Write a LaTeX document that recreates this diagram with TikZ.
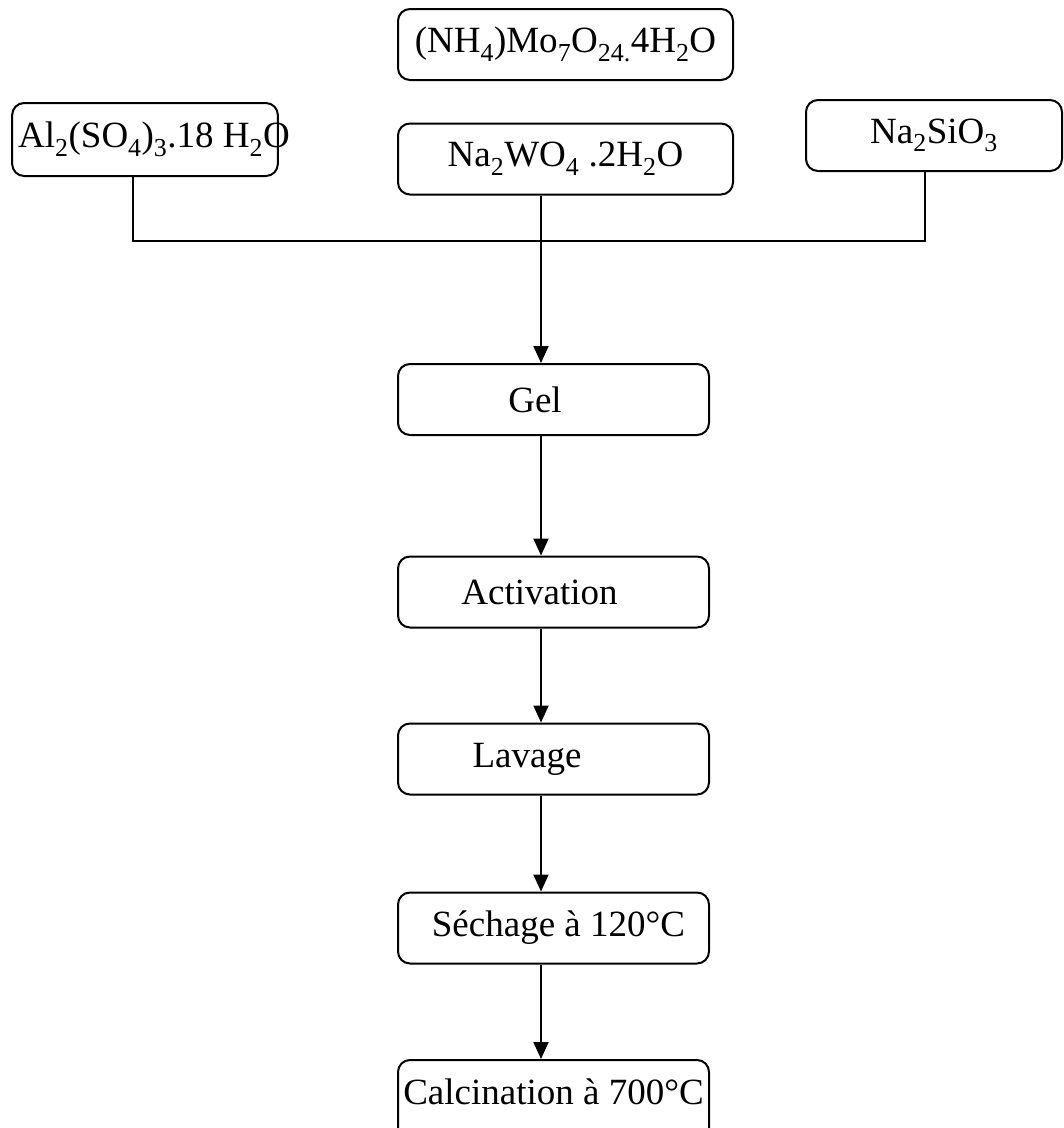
\documentclass[tikz,border=0pt]{standalone}
\usepackage{fontspec}
\setmainfont{Liberation Serif}
\usetikzlibrary{arrows.meta}

\tikzset{
  stepbox/.style ={draw=black, rounded corners=12pt, line width=2pt, minimum height=71pt,
                   inner sep=0pt, font=\fontsize{37}{44}\selectfont},
  wide/.style    ={stepbox, minimum width=335pt},
  mid/.style     ={stepbox, minimum width=311pt},
  link/.style    ={line width=2pt},
  flow/.style    ={link, -{Triangle[length=17pt,width=15pt]}}
}

\begin{document}
\begin{tikzpicture}[x=1pt,y=-1pt]
    \useasboundingbox (0,0) rectangle (1064,1128);

    % reagents
    \node[wide] (nh) at (565.5,44.5) {(NH\textsubscript{4})Mo\textsubscript{7}O\textsubscript{24.}4H\textsubscript{2}O};
    \node[stepbox, minimum width=264pt, inner xsep=-12pt, minimum height=73pt] (al) at (145,139.5)
        {\hspace*{18pt}Al\textsubscript{2}(SO\textsubscript{4})\textsubscript{3}.18 H\textsubscript{2}O};
    \node[wide] (nw) at (565.5,159) {Na\textsubscript{2}WO\textsubscript{4} .2H\textsubscript{2}O};
    \node[stepbox, minimum width=256pt] (si) at (934,135.5) {Na\textsubscript{2}SiO\textsubscript{3}};

    % steps
    \node[mid] (gel) at (553.5,399.5) {Gel\hspace*{37pt}};
    \node[mid] (act) at (553.5,592) {Activation\hspace*{28pt}};
    \node[mid] (lav) at (553.5,759) {Lavage\hspace*{53pt}};
    \node[mid] (sec) at (553.5,928) {\hspace*{10pt}Séchage à 120°C};
    \node[mid, minimum height=80pt, text depth=16pt] (cal) at (553.5,1100) {Calcination à 700°C};

    % mixing
    \coordinate (jn) at (541,241);
    \draw[link] ([xshift=-12pt]al.south) |- (jn) -| ([xshift=-9pt]si.south);
    \draw[link] ([xshift=-24.5pt]nw.south) -- (jn);
    \draw[flow] (jn) -- (gel.north -| jn);

    \foreach \a/\b in {gel/act, act/lav, lav/sec, sec/cal}
      \draw[flow] ([xshift=-12.5pt]\a.south) -- ([xshift=-12.5pt]\b.north);
\end{tikzpicture}
\end{document}
